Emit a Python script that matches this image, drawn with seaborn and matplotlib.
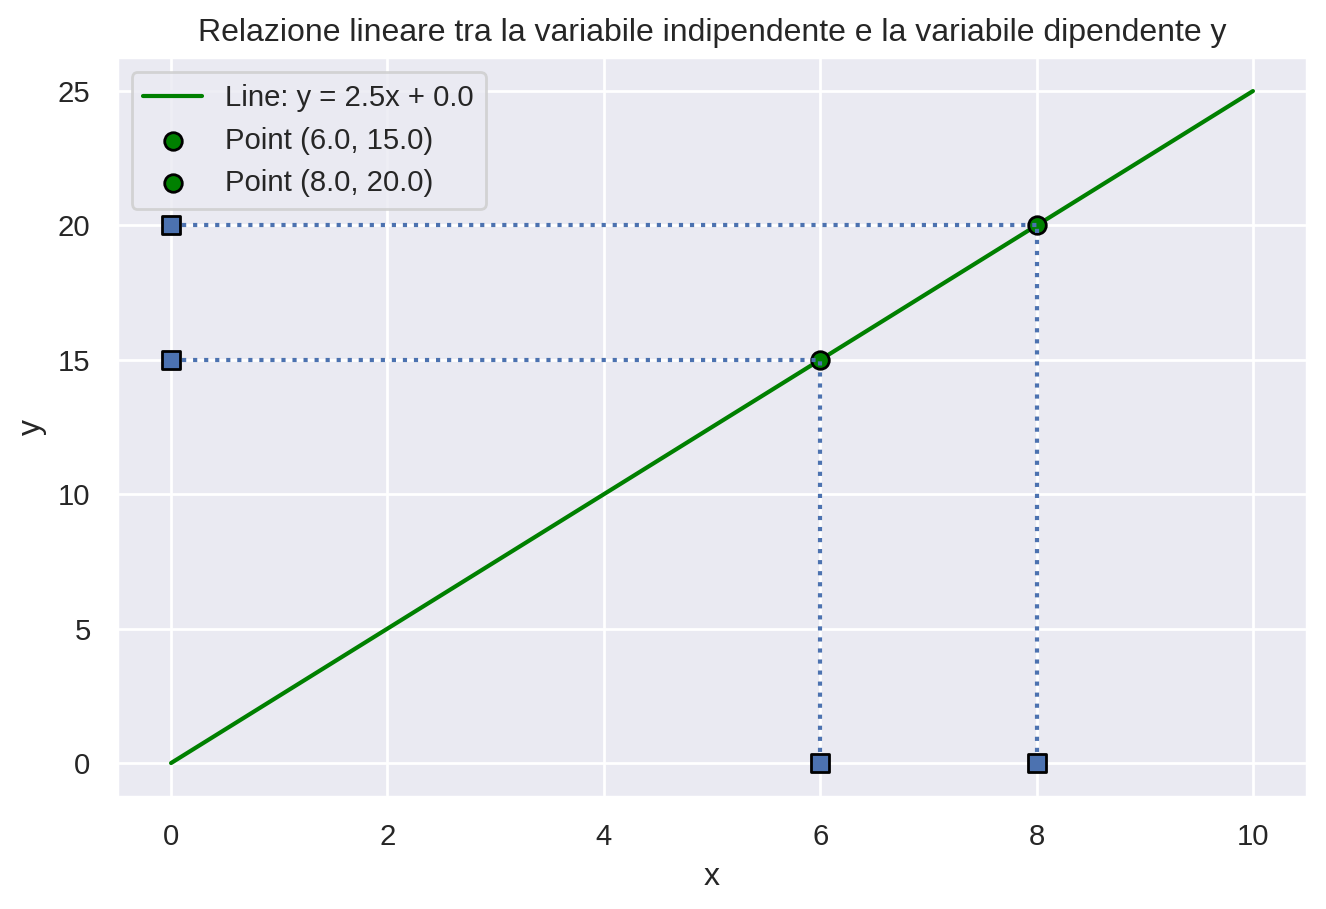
import numpy as np
import pandas as pd
import matplotlib
matplotlib.use("Agg")
import matplotlib.pyplot as plt
import seaborn as sns

slope = 2.5
intercept = 0.0
line_x = [0, 10]
point_x = [6.0, 8.0]
point_y = [15.0, 20.0]

sns.set_theme(style="darkgrid", font_scale=0.96)
plt.rcParams['font.family'] = ['Liberation Sans', 'DejaVu Sans']
fig, ax = plt.subplots(figsize=(6.63, 4.545), dpi=200)
fig.subplots_adjust(left=0.0882, right=0.9857, top=0.9368, bottom=0.1236)

line_df = pd.DataFrame({"x": line_x, "y": [slope * v + intercept for v in line_x]})
sns.lineplot(data=line_df, x="x", y="y", color="green", ax=ax, zorder=3,
             label=f"Line: y = {slope}x + {intercept}")

blue = sns.color_palette("deep")[0]
for px, py in zip(point_x, point_y):
    sns.scatterplot(x=[px], y=[py], color="green", edgecolor="black", s=40,
                    linewidth=1, zorder=4, ax=ax, label=f"Point ({px}, {py})")

for px, py in zip(point_x, point_y):
    ax.plot([0, px], [py, py], linestyle=":", color=blue, zorder=5)
    ax.plot([px, px], [0, py], linestyle=":", color=blue, zorder=5)
    ax.scatter([0], [py], marker="s", color=blue, edgecolor="black", s=40, zorder=6)
    ax.scatter([px], [0], marker="s", color=blue, edgecolor="black", s=40, zorder=6)

ax.set_xlabel("x")
ax.set_ylabel("y")
ax.set_title("Relazione lineare tra la variabile indipendente e la variabile dipendente y")
ax.legend(loc="upper left")
fig.savefig("out.png", dpi=200)
